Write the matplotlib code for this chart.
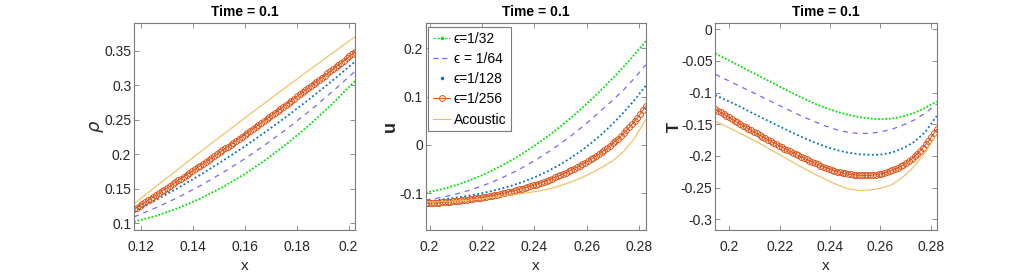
import matplotlib
matplotlib.use('Agg')
import matplotlib.pyplot as plt
from matplotlib.lines import Line2D
from matplotlib.ticker import FormatStrFormatter

plt.rcParams['font.family'] = ['Liberation Sans', 'DejaVu Sans']
plt.rcParams['axes.unicode_minus'] = False

# ---- datos ----
labels = ['ϵ=1/32', 'ϵ = 1/64', 'ϵ=1/128', 'ϵ=1/256', 'Acoustic']

# panel rho
rho_x = [0.1175, 0.1260, 0.1345, 0.1430, 0.1515, 0.1600, 0.1685, 0.1770, 0.1855, 0.1940, 0.2025]
rho_eps32 = [0.102, 0.1105, 0.1217, 0.1355, 0.1519, 0.1710, 0.1927, 0.2171, 0.2441, 0.2737, 0.306]
rho_eps64 = [0.109, 0.1224, 0.1374, 0.1542, 0.1728, 0.1930, 0.2150, 0.2386, 0.2640, 0.2912, 0.320]
rho_eps128 = [0.117, 0.1335, 0.1511, 0.1699, 0.1899, 0.2110, 0.2333, 0.2567, 0.2813, 0.3071, 0.334]
rho_acoustic = [0.128, 0.1533, 0.1783, 0.2031, 0.2277, 0.2520, 0.2761, 0.2999, 0.3235, 0.3469, 0.370]
rho_x_fine = [0.11750, 0.11856, 0.11963, 0.12069, 0.12175, 0.12281, 0.12388, 0.12494, 0.12600, 0.12706,
              0.12813, 0.12919, 0.13025, 0.13131, 0.13238, 0.13344, 0.13450, 0.13556, 0.13663, 0.13769,
              0.13875, 0.13981, 0.14088, 0.14194, 0.14300, 0.14406, 0.14513, 0.14619, 0.14725, 0.14831,
              0.14938, 0.15044, 0.15150, 0.15256, 0.15363, 0.15469, 0.15575, 0.15681, 0.15788, 0.15894,
              0.16000, 0.16106, 0.16213, 0.16319, 0.16425, 0.16531, 0.16638, 0.16744, 0.16850, 0.16956,
              0.17063, 0.17169, 0.17275, 0.17381, 0.17488, 0.17594, 0.17700, 0.17806, 0.17913, 0.18019,
              0.18125, 0.18231, 0.18338, 0.18444, 0.18550, 0.18656, 0.18763, 0.18869, 0.18975, 0.19081,
              0.19188, 0.19294, 0.19400, 0.19506, 0.19613, 0.19719, 0.19825, 0.19931, 0.20038, 0.20144,
              0.20250]
rho_eps256 = [0.1200, 0.1225, 0.1251, 0.1277, 0.1303, 0.1328, 0.1354, 0.1380, 0.1406, 0.1432,
              0.1459, 0.1485, 0.1511, 0.1537, 0.1564, 0.1591, 0.1618, 0.1644, 0.1671, 0.1698,
              0.1725, 0.1752, 0.1779, 0.1806, 0.1834, 0.1861, 0.1888, 0.1915, 0.1943, 0.1971,
              0.1999, 0.2026, 0.2054, 0.2082, 0.2110, 0.2138, 0.2167, 0.2195, 0.2223, 0.2251,
              0.2280, 0.2308, 0.2337, 0.2366, 0.2395, 0.2423, 0.2452, 0.2481, 0.2510, 0.2539,
              0.2569, 0.2598, 0.2627, 0.2656, 0.2686, 0.2716, 0.2746, 0.2775, 0.2805, 0.2835,
              0.2865, 0.2895, 0.2925, 0.2955, 0.2986, 0.3016, 0.3046, 0.3076, 0.3107, 0.3138,
              0.3169, 0.3199, 0.3230, 0.3261, 0.3292, 0.3323, 0.3355, 0.3386, 0.3417, 0.3448,
              0.3480]

# panel u
u_x = [0.1985, 0.2027, 0.2069, 0.2111, 0.2153, 0.2195, 0.2237, 0.2279, 0.2321, 0.2363, 0.2405,
       0.2447, 0.2489, 0.2531, 0.2573, 0.2615, 0.2657, 0.2699, 0.2741, 0.2783, 0.2825]
u_eps32 = [-0.0990, -0.0943, -0.0884, -0.0814, -0.0732, -0.0639, -0.0534, -0.0418, -0.0290, -0.0151, 0.0000,
           0.0162, 0.0336, 0.0521, 0.0718, 0.0926, 0.1146, 0.1377, 0.1620, 0.1874, 0.2140]
u_eps64 = [-0.1140, -0.1104, -0.1058, -0.1002, -0.0936, -0.0859, -0.0772, -0.0673, -0.0564, -0.0444, -0.0312,
           -0.0169, -0.0014, 0.0152, 0.0330, 0.0520, 0.0722, 0.0925, 0.1140, 0.1385, 0.1655]
u_eps128 = [-0.1170, -0.1144, -0.1115, -0.1083, -0.1047, -0.1005, -0.0955, -0.0897, -0.0830, -0.0751, -0.0659,
            -0.0554, -0.0435, -0.0298, -0.0144, 0.0028, 0.0221, 0.0436, 0.0673, 0.0934, 0.1220]
u_acoustic = [-0.1180, -0.1175, -0.1168, -0.1158, -0.1140, -0.1115, -0.1088, -0.1060, -0.1031, -0.0999, -0.0963,
              -0.0920, -0.0860, -0.0785, -0.0695, -0.0590, -0.0465, -0.0330, -0.0135, 0.0145, 0.0520]
u_x_fine = [0.19850, 0.19955, 0.20060, 0.20165, 0.20270, 0.20375, 0.20480, 0.20585, 0.20690, 0.20795,
            0.20900, 0.21005, 0.21110, 0.21215, 0.21320, 0.21425, 0.21530, 0.21635, 0.21740, 0.21845,
            0.21950, 0.22055, 0.22160, 0.22265, 0.22370, 0.22475, 0.22580, 0.22685, 0.22790, 0.22895,
            0.23000, 0.23105, 0.23210, 0.23315, 0.23420, 0.23525, 0.23630, 0.23735, 0.23840, 0.23945,
            0.24050, 0.24155, 0.24260, 0.24365, 0.24470, 0.24575, 0.24680, 0.24785, 0.24890, 0.24995,
            0.25100, 0.25205, 0.25310, 0.25415, 0.25520, 0.25625, 0.25730, 0.25835, 0.25940, 0.26045,
            0.26150, 0.26255, 0.26360, 0.26465, 0.26570, 0.26675, 0.26780, 0.26885, 0.26990, 0.27095,
            0.27200, 0.27305, 0.27410, 0.27515, 0.27620, 0.27725, 0.27830, 0.27935, 0.28040, 0.28145,
            0.28250]
u_eps256 = [-0.1210, -0.1207, -0.1204, -0.1201, -0.1197, -0.1193, -0.1189, -0.1185, -0.1180, -0.1174,
            -0.1168, -0.1162, -0.1155, -0.1148, -0.1141, -0.1133, -0.1125, -0.1117, -0.1108, -0.1099,
            -0.1090, -0.1081, -0.1071, -0.1061, -0.1050, -0.1039, -0.1027, -0.1015, -0.1003, -0.0990,
            -0.0977, -0.0964, -0.0950, -0.0935, -0.0920, -0.0904, -0.0888, -0.0872, -0.0855, -0.0838,
            -0.0820, -0.0801, -0.0781, -0.0761, -0.0740, -0.0718, -0.0696, -0.0673, -0.0650, -0.0625,
            -0.0600, -0.0574, -0.0547, -0.0519, -0.0490, -0.0460, -0.0430, -0.0399, -0.0367, -0.0334,
            -0.0300, -0.0264, -0.0227, -0.0189, -0.0150, -0.0108, -0.0064, -0.0018, 0.0029, 0.0079,
            0.0130, 0.0184, 0.0240, 0.0300, 0.0362, 0.0427, 0.0495, 0.0566, 0.0641, 0.0719,
            0.0800]

# panel T
T_x = [0.1944, 0.1988, 0.2032, 0.2076, 0.2120, 0.2164, 0.2208, 0.2252, 0.2296, 0.2340, 0.2384,
       0.2428, 0.2472, 0.2516, 0.2560, 0.2604, 0.2648, 0.2692, 0.2736, 0.2780, 0.2824]
T_eps32 = [-0.0380, -0.0470, -0.0560, -0.0650, -0.0740, -0.0830, -0.0920, -0.1010, -0.1095, -0.1175, -0.1245,
           -0.1303, -0.1350, -0.1387, -0.1410, -0.1418, -0.1408, -0.1375, -0.1318, -0.1237, -0.1140]
T_eps64 = [-0.0710, -0.0795, -0.0880, -0.0965, -0.1050, -0.1135, -0.1220, -0.1305, -0.1385, -0.1460, -0.1530,
           -0.1588, -0.1627, -0.1645, -0.1643, -0.1618, -0.1575, -0.1510, -0.1430, -0.1320, -0.1180]
T_eps128 = [-0.1040, -0.1120, -0.1200, -0.1290, -0.1380, -0.1465, -0.1550, -0.1635, -0.1715, -0.1790, -0.1855,
            -0.1908, -0.1948, -0.1973, -0.1983, -0.1978, -0.1945, -0.1875, -0.1775, -0.1615, -0.1370]
T_acoustic = [-0.1450, -0.1535, -0.1620, -0.1710, -0.1800, -0.1900, -0.2000, -0.2100, -0.2195, -0.2290, -0.2375,
              -0.2455, -0.2520, -0.2548, -0.2538, -0.2510, -0.2450, -0.2325, -0.2160, -0.1935, -0.1660]
T_x_fine = [0.19440, 0.19550, 0.19660, 0.19770, 0.19880, 0.19990, 0.20100, 0.20210, 0.20320, 0.20430,
            0.20540, 0.20650, 0.20760, 0.20870, 0.20980, 0.21090, 0.21200, 0.21310, 0.21420, 0.21530,
            0.21640, 0.21750, 0.21860, 0.21970, 0.22080, 0.22190, 0.22300, 0.22410, 0.22520, 0.22630,
            0.22740, 0.22850, 0.22960, 0.23070, 0.23180, 0.23290, 0.23400, 0.23510, 0.23620, 0.23730,
            0.23840, 0.23950, 0.24060, 0.24170, 0.24280, 0.24390, 0.24500, 0.24610, 0.24720, 0.24830,
            0.24940, 0.25050, 0.25160, 0.25270, 0.25380, 0.25490, 0.25600, 0.25710, 0.25820, 0.25930,
            0.26040, 0.26150, 0.26260, 0.26370, 0.26480, 0.26590, 0.26700, 0.26810, 0.26920, 0.27030,
            0.27140, 0.27250, 0.27360, 0.27470, 0.27580, 0.27690, 0.27800, 0.27910, 0.28020, 0.28130,
            0.28240]
T_eps256 = [-0.1260, -0.1287, -0.1313, -0.1339, -0.1365, -0.1392, -0.1418, -0.1444, -0.1470, -0.1495,
            -0.1520, -0.1545, -0.1570, -0.1595, -0.1620, -0.1645, -0.1670, -0.1694, -0.1718, -0.1742,
            -0.1765, -0.1789, -0.1813, -0.1837, -0.1860, -0.1883, -0.1905, -0.1927, -0.1949, -0.1971,
            -0.1992, -0.2013, -0.2034, -0.2055, -0.2075, -0.2095, -0.2115, -0.2134, -0.2153, -0.2172,
            -0.2190, -0.2206, -0.2220, -0.2234, -0.2246, -0.2258, -0.2268, -0.2277, -0.2285, -0.2292,
            -0.2297, -0.2302, -0.2305, -0.2307, -0.2308, -0.2307, -0.2306, -0.2303, -0.2298, -0.2291,
            -0.2283, -0.2272, -0.2260, -0.2245, -0.2229, -0.2210, -0.2189, -0.2165, -0.2139, -0.2110,
            -0.2078, -0.2043, -0.2005, -0.1964, -0.1919, -0.1871, -0.1819, -0.1764, -0.1705, -0.1644,
            -0.1580]

# colores (estilo MATLAB)
c32 = '#00e600'
c64 = '#6b6bff'
c128 = '#0072bd'
c256 = '#d95319'
cac = '#f0bd5a'
gris = '#7a7a7a'


def dibujar(ax, x, x_fine, e32, e64, e128, e256, ac):
    ax.plot(x, e32, color=c32, lw=1.3, ls=(0, (1, 1)))
    ax.plot(x, e64, color=c64, lw=0.9, ls=(0, (4, 4)))
    ax.plot(x, e128, color=c128, lw=1.3, ls=(0, (1, 1.4)))
    ax.plot(x_fine, e256, color=c256, lw=0.7, marker='o', ms=4.2, mfc='none', mew=0.7)
    ax.plot(x, ac, color=cac, lw=0.8)


def estilo(ax, xlim, ylim, xticks, yticks, ylabel, ylabel_kw, pad_y):
    ax.set_xlim(xlim)
    ax.set_ylim(ylim)
    ax.set_xticks(xticks)
    ax.set_yticks(yticks)
    ax.xaxis.set_major_formatter(FormatStrFormatter('%g'))
    ax.yaxis.set_major_formatter(FormatStrFormatter('%g'))
    ax.tick_params(direction='in', top=True, right=True, length=3.5, width=0.6,
                   color=gris, labelcolor='#262626', labelsize=10)
    ax.tick_params(axis='x', pad=7)
    ax.tick_params(axis='y', pad=2)
    for s in ax.spines.values():
        s.set_color(gris)
        s.set_linewidth(0.8)
    ax.set_title('Time = 0.1', fontsize=10, fontweight='bold', pad=5)
    ax.set_xlabel('x', fontsize=11, color='#262626')
    ax.set_ylabel(ylabel, color='#262626', labelpad=pad_y, **ylabel_kw)


fig = plt.figure(figsize=(10.35, 2.73), dpi=100)
ax1 = fig.add_axes([0.1295, 0.1575, 0.2135, 0.7582])
ax2 = fig.add_axes([0.4113, 0.1575, 0.2126, 0.7582])
ax3 = fig.add_axes([0.6911, 0.1575, 0.2139, 0.7582])

dibujar(ax1, rho_x, rho_x_fine, rho_eps32, rho_eps64, rho_eps128, rho_eps256, rho_acoustic)
dibujar(ax2, u_x, u_x_fine, u_eps32, u_eps64, u_eps128, u_eps256, u_acoustic)
dibujar(ax3, T_x, T_x_fine, T_eps32, T_eps64, T_eps128, T_eps256, T_acoustic)

estilo(ax1, (0.1175, 0.2025), (0.09, 0.39), [0.12, 0.14, 0.16, 0.18, 0.2],
       [0.1, 0.15, 0.2, 0.25, 0.3, 0.35], r'$\rho$', dict(fontsize=13), -1.5)
estilo(ax2, (0.1985, 0.2825), (-0.176, 0.252), [0.2, 0.22, 0.24, 0.26, 0.28],
       [-0.1, 0, 0.1, 0.2], 'u', dict(fontsize=13, fontweight='bold'), 0)
estilo(ax3, (0.1944, 0.2824), (-0.317, 0.01), [0.2, 0.22, 0.24, 0.26, 0.28],
       [-0.3, -0.25, -0.2, -0.15, -0.1, -0.05, 0], 'T', dict(fontsize=12, fontweight='bold'), -1)

# leyenda con manejadores propios
handles = [
    Line2D([], [], color=c32, lw=0.8, ls=(0, (2, 1.5)), marker='.', ms=3),
    Line2D([], [], color=c64, lw=0.9, ls=(0, (4, 3))),
    Line2D([], [], color=c128, ls='none', marker='.', ms=3),
    Line2D([], [], color=c256, lw=0.7, marker='o', ms=4.2, mfc='none', mew=0.7),
    Line2D([], [], color=cac, lw=0.8),
]
leg = ax2.legend(handles, labels, loc='upper left', bbox_to_anchor=(0.0105, 0.982),
                 borderaxespad=0, fontsize=10, fancybox=False, edgecolor=gris, framealpha=1,
                 handlelength=1.25, handletextpad=0.25, labelspacing=0.45, borderpad=0.35)
leg.get_frame().set_linewidth(0.8)

fig.savefig('out.png', dpi=100, facecolor='white')
